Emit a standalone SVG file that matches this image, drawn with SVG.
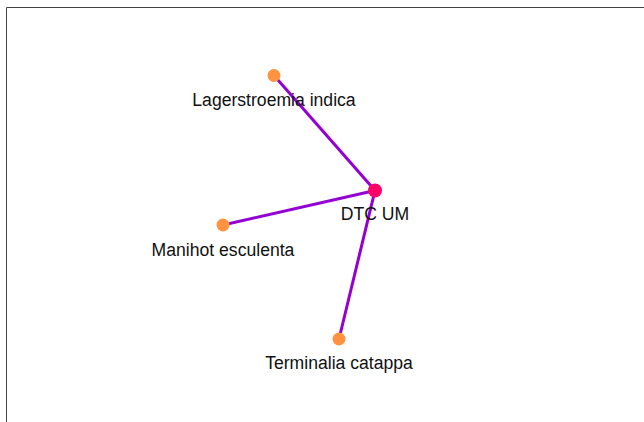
<svg xmlns="http://www.w3.org/2000/svg" width="644" height="422" viewBox="0 0 644 422">
<style>
.frame{fill:none;stroke:#444;stroke-width:1}
.edge{stroke:#9400D3;stroke-width:3;fill:none}
.leaf{fill:#FF9340}
.hub{fill:#FF0066}
.lbl{font-family:"Liberation Sans",Arial,sans-serif;font-size:17.6px;fill:#111;text-anchor:middle}
</style>
<rect width="644" height="422" fill="#fff"/>
<path class="frame" d="M6.5 422 V7.5 H644"/>
<g id="connectors">
<line class="edge" x1="375" y1="190.5" x2="274" y2="75.5"/>
<line class="edge" x1="375" y1="190.5" x2="223" y2="225"/>
<line class="edge" x1="375" y1="190.5" x2="339" y2="339"/>
</g>
<g id="node-lagerstroemia">
<circle class="leaf" cx="274" cy="75.5" r="6.5"/>
<text class="lbl" x="274" y="105.5">Lagerstroemia indica</text>
</g>
<g id="node-manihot">
<circle class="leaf" cx="223" cy="225" r="6.5"/>
<text class="lbl" x="223" y="255.5">Manihot esculenta</text>
</g>
<g id="node-terminalia">
<circle class="leaf" cx="339" cy="339" r="6.5"/>
<text class="lbl" x="339" y="368.5">Terminalia catappa</text>
</g>
<g id="node-dtc">
<circle class="hub" cx="375" cy="190.5" r="7"/>
<text class="lbl" x="375" y="219.5">DTC UM</text>
</g>
</svg>
